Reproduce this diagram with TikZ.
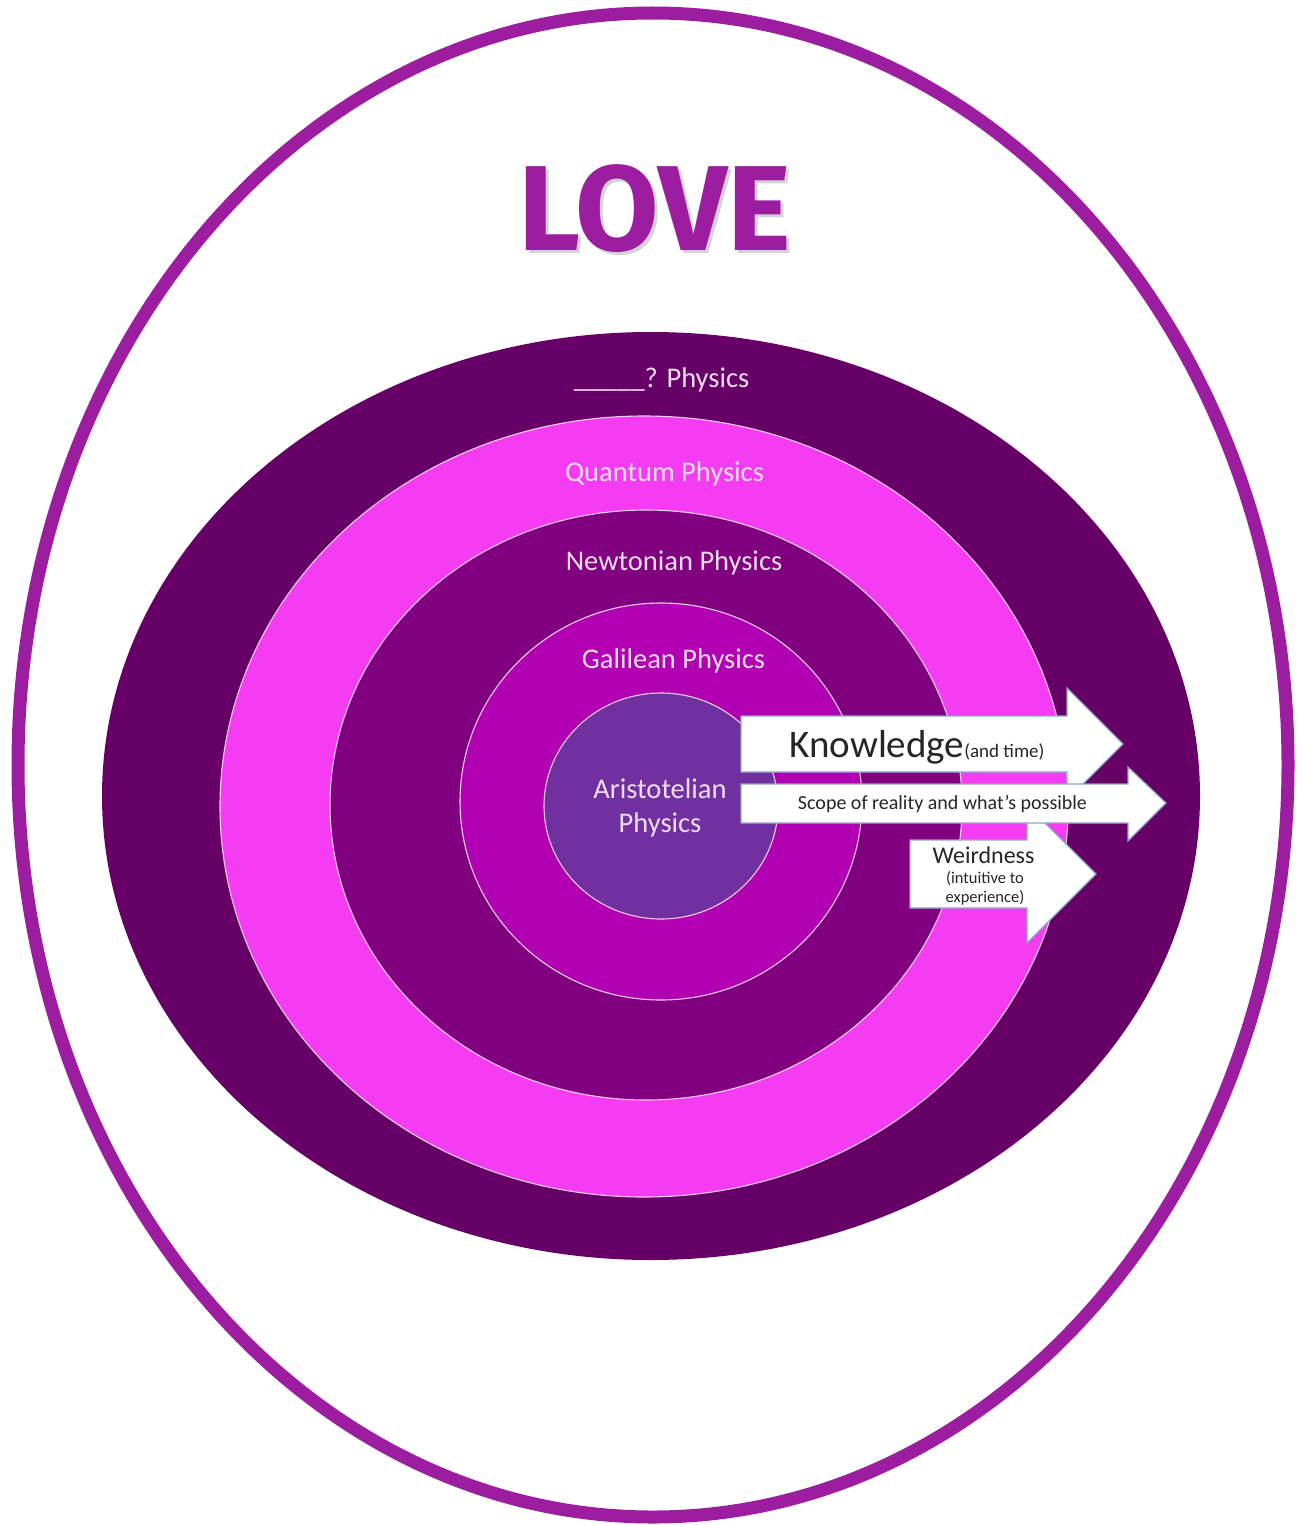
\documentclass[tikz,border=0pt]{standalone}
\usepackage{fontspec}
\setmainfont{Carlito}
\newfontfamily\lovefont{Fira Sans}
\usetikzlibrary{positioning}

\definecolor{lovepurple}{HTML}{9C1DA0}
\definecolor{unknownring}{HTML}{660066}
\definecolor{quantumpink}{HTML}{F53CF3}
\definecolor{newtonring}{HTML}{800080}
\definecolor{galileoring}{HTML}{B000B2}
\definecolor{aristotledisc}{HTML}{7030A0}
\definecolor{ringline}{HTML}{F3CDF3}
\definecolor{labeltext}{HTML}{F1DDF3}
\definecolor{arrowline}{HTML}{8DA6C6}

\begin{document}
\begin{tikzpicture}[
  x=1pt, y=-1pt,
  ring/.style={
    draw=ringline,
    line width=1.1pt
  },
  ringlabel/.style={
    text=labeltext,
    font=\fontsize{28.5}{34}\selectfont,
    align=center,
    inner sep=0pt,
    anchor=base
  },
  bigarrow/.style={
    fill=white,
    draw=arrowline,
    line width=1.2pt,
    line join=miter
  },
  arrowlabel/.style={
    text=black!85,
    inner sep=0pt,
    align=center,
    anchor=base
  }
]
\useasboundingbox (0,0) rectangle (1301,1525);
% outer LOVE ellipse
\draw[draw=lovepurple, line width=13pt] (653,765) ellipse [x radius=635pt, y radius=752pt];
\node[text=black!50, opacity=0.35, inner sep=0pt, anchor=base,
  font=\lovefont\bfseries\fontsize{121}{130}\selectfont] (loveshadow) at (657.5,253) {LOVE};
\node[text=lovepurple, inner sep=0pt, anchor=base,
  font=\lovefont\bfseries\fontsize{121}{130}\selectfont] (love) at (654.5,250) {LOVE};

% nested physics layers
\fill[fill=unknownring] (651,796) ellipse [x radius=549pt, y radius=464pt];
\filldraw[ring, fill=quantumpink] (644,806.5) ellipse [x radius=424pt, y radius=390.5pt];
\filldraw[ring, fill=newtonring] (646,805) ellipse [x radius=316pt, y radius=295pt];
\filldraw[ring, fill=galileoring] (661,801.5) ellipse [x radius=201pt, y radius=198.5pt];
\filldraw[ring, fill=aristotledisc] (661,806) ellipse [x radius=117pt, y radius=113pt];

% arrows
\filldraw[bigarrow] (910,840) -- (1027,840) -- (1027,805) -- (1096,874)
  -- (1027,943) -- (1027,908) -- (910,908) -- cycle;
\filldraw[bigarrow] (741,716) -- (1067,716) -- (1067,688) -- (1123,744)
  -- (1067,800) -- (1067,772) -- (741,772) -- cycle;
\filldraw[bigarrow] (741,784) -- (1128,784) -- (1128,767) -- (1166,803)
  -- (1128,841) -- (1128,823) -- (741,823) -- cycle;

% layer labels
\node[ringlabel] (unknown) at (661.5,387) {\_\_\_\_\_? Physics};
\node[ringlabel] (quantum) at (664.5,481.5) {Quantum Physics};
\node[ringlabel] (newton) at (674,570.5) {Newtonian Physics};
\node[ringlabel] (galileo) at (673.5,668) {Galilean Physics};
\node[ringlabel] (aristotle) at (660,832) {Aristotelian\\Physics};

% arrow labels
\node[arrowlabel, font=\fontsize{39}{44}\selectfont] (knowledge) at (917,757)
  {Knowledge{\fontsize{19}{22}\selectfont(and time)}};
\node[arrowlabel, font=\fontsize{20}{22}\selectfont] (scope) at (942.5,809.5)
  {Scope of reality and what’s possible};
\node[arrowlabel, font=\fontsize{24}{26}\selectfont] (weird) at (983.5,863) {Weirdness};
\node[arrowlabel, font=\fontsize{16.5}{19}\selectfont] (weirdnote)
  at (985,902) {(intuitive to\\experience)};
\end{tikzpicture}
\end{document}
